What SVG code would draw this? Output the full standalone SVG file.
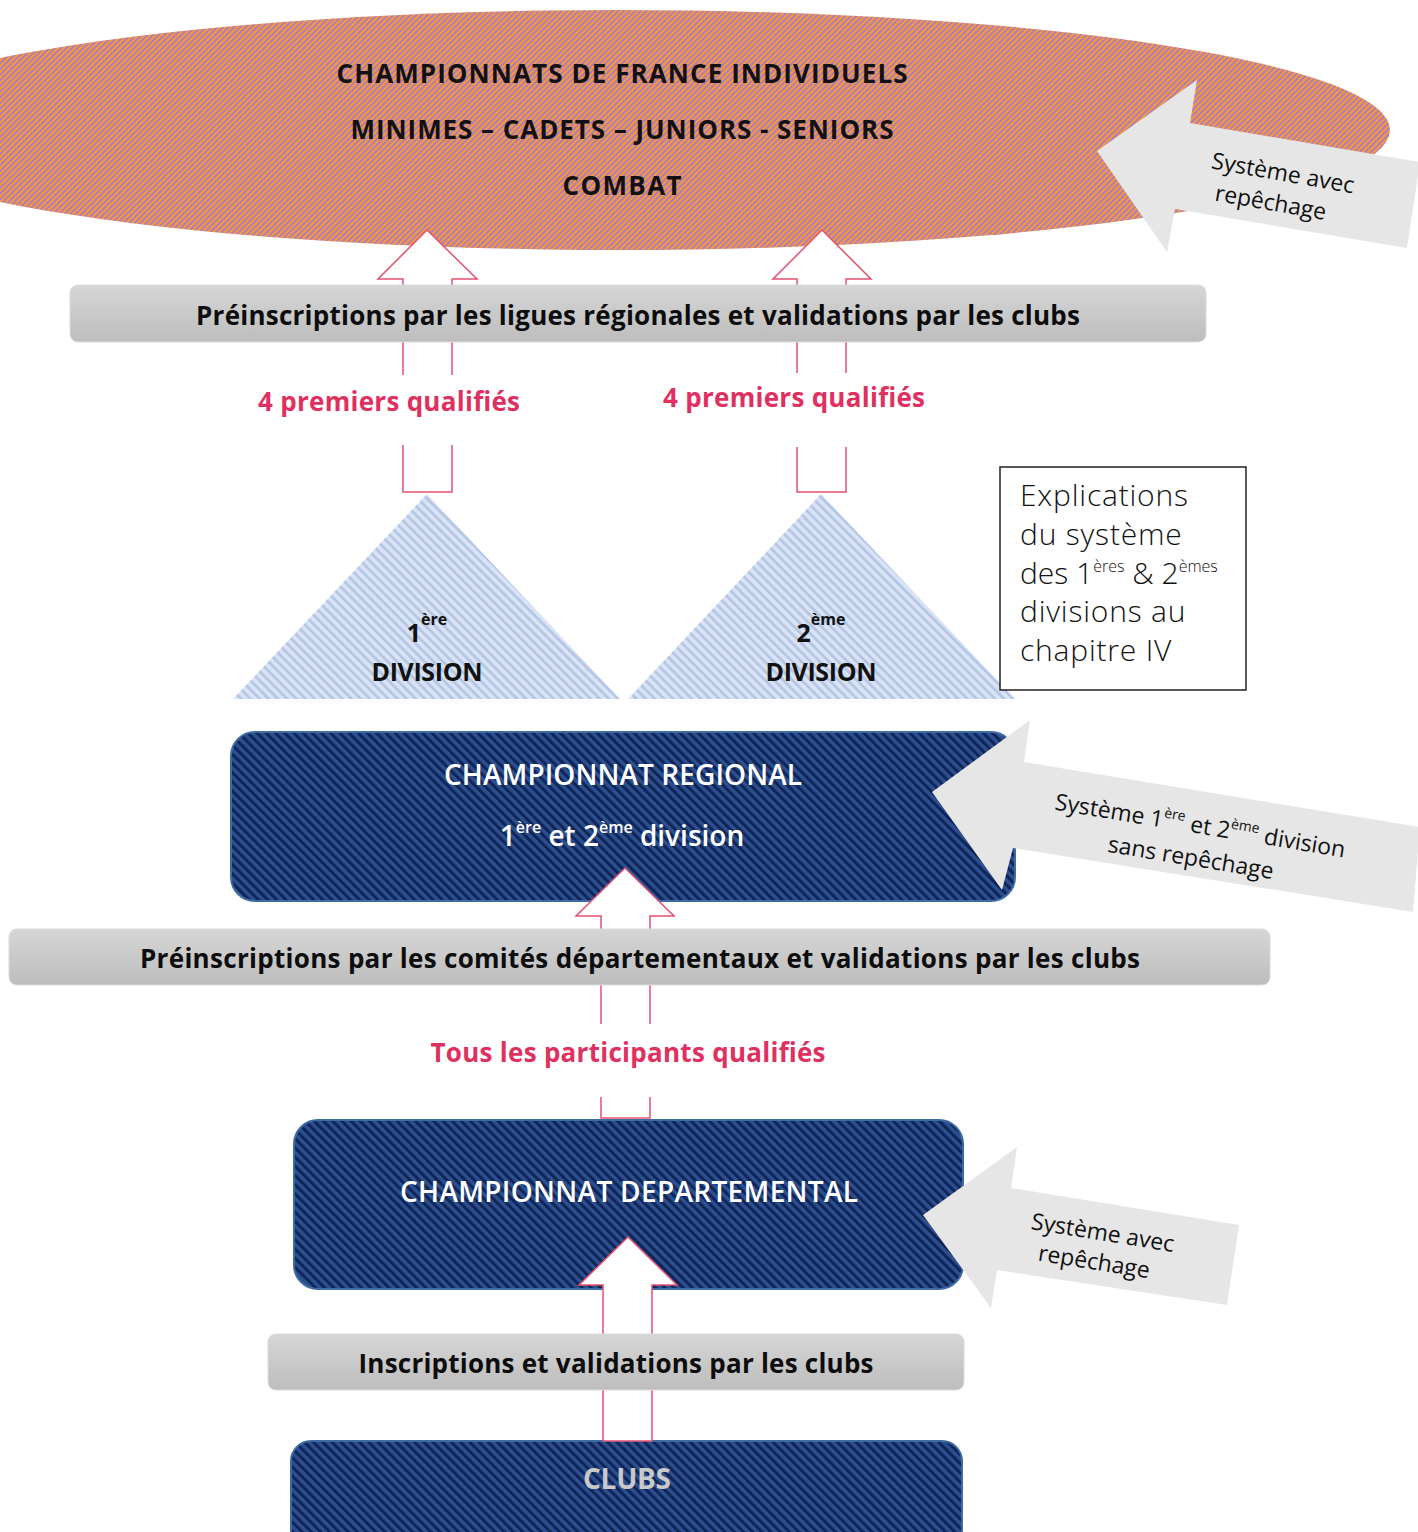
<svg xmlns="http://www.w3.org/2000/svg" width="1418" height="1532" viewBox="0 0 1418 1532">
<defs>
<pattern id="pOrange" width="4" height="4" patternUnits="userSpaceOnUse" patternTransform="rotate(45)">
<rect width="4" height="4" fill="#f89a34"/>
<rect width="1.8" height="4" fill="#a679cc"/>
</pattern>
<pattern id="pBlue" width="6.5" height="6.5" patternUnits="userSpaceOnUse" patternTransform="rotate(-45)">
<rect width="6.5" height="6.5" fill="#2c4f8f"/>
<rect width="3" height="6.5" fill="#0f2457"/>
</pattern>
<pattern id="pLight" width="6.5" height="6.5" patternUnits="userSpaceOnUse" patternTransform="rotate(-45)">
<rect width="6.5" height="6.5" fill="#dae3f3"/>
<rect width="2.8" height="6.5" fill="#b4c7e7"/>
</pattern>
<linearGradient id="gBar" x1="0" y1="0" x2="0" y2="1">
<stop offset="0" stop-color="#d6d6d6"/>
<stop offset="1" stop-color="#bdbdbd"/>
</linearGradient>
<style>
.bar{fill:url(#gBar);stroke:#dadada;stroke-width:1}
.barT{font-family:"Open Sans","Liberation Sans",sans-serif;font-weight:700;font-size:26px;fill:#0d0d0d;text-anchor:middle}
.up{fill:#ffffff;stroke:#e3506f;stroke-width:1.5}
.pink{font-family:"Open Sans","Liberation Sans",sans-serif;font-weight:700;font-size:26px;fill:#e0305f;text-anchor:middle}
.blueBox{fill:url(#pBlue);stroke:#3f6ba3;stroke-width:2}
.white{font-family:"Open Sans","Liberation Sans",sans-serif;font-weight:600;font-size:28px;fill:#ffffff;text-anchor:middle}
.head{font-family:"Open Sans","Liberation Sans",sans-serif;font-weight:700;font-size:26px;fill:#111111;text-anchor:middle}
.call{fill:#e6e6e6}
.callT{font-family:"Open Sans","Liberation Sans",sans-serif;font-weight:400;font-size:23px;fill:#111111;text-anchor:middle}
.div{font-family:"Open Sans","Liberation Sans",sans-serif;font-weight:700;font-size:25px;fill:#111111;text-anchor:middle}
.expl{font-family:"Open Sans","Lato","Liberation Sans",sans-serif;font-weight:300;font-size:30px;letter-spacing:0.8px;fill:#111111}
</style>
</defs>

<g id="france">
<ellipse cx="618" cy="130" rx="772" ry="120" fill="url(#pOrange)"/>
<text class="head" x="622" y="83" textLength="571">CHAMPIONNATS DE FRANCE INDIVIDUELS</text>
<text class="head" x="622" y="139" textLength="543">MINIMES – CADETS – JUNIORS - SENIORS</text>
<text class="head" x="622" y="195" textLength="119">COMBAT</text>
</g>

<g id="connectors">
<polygon class="up" points="427,230 477,279 452,279 452,492 403,492 403,279 378,279"/>
<polygon class="up" points="822,230 871,279 846,279 846,492 797,492 797,279 773,279"/>
</g>

<g id="bar-ligues">
<rect class="bar" x="70" y="285" width="1136" height="57" rx="8"/>
<text class="barT" x="638" y="325" textLength="884">Préinscriptions par les ligues régionales et validations par les clubs</text>
</g>

<g id="label-q1">
<rect x="395" y="375" width="65" height="70" fill="#ffffff"/>
<text class="pink" x="389" y="411" textLength="262">4 premiers qualifiés</text>
</g>
<g id="label-q2">
<rect x="790" y="373" width="64" height="74" fill="#ffffff"/>
<text class="pink" x="794" y="407" textLength="262">4 premiers qualifiés</text>
</g>

<g id="div1">
<polygon points="427,494 620,699 233,699" fill="url(#pLight)"/>
<text class="div" x="427" y="642">1<tspan font-size="16" dy="-17">ère</tspan></text>
<text class="div" x="427" y="681" textLength="111">DIVISION</text>
</g>
<g id="div2">
<polygon points="821,494 1015,699 628,699" fill="url(#pLight)"/>
<text class="div" x="821" y="642">2<tspan font-size="16" dy="-17">ème</tspan></text>
<text class="div" x="821" y="681" textLength="111">DIVISION</text>
</g>

<g id="explications">
<rect x="1000" y="467" width="246" height="223" fill="#ffffff" stroke="#222222" stroke-width="1.5"/>
<text class="expl" x="1020" y="506">Explications</text>
<text class="expl" x="1020" y="545">du système</text>
<text class="expl" x="1020" y="584" style="letter-spacing:0">des 1<tspan font-size="16" dy="-12">ères</tspan><tspan dy="12"> &amp; 2</tspan><tspan font-size="16" dy="-12">èmes</tspan></text>
<text class="expl" x="1020" y="622">divisions au</text>
<text class="expl" x="1020" y="661">chapitre IV</text>
</g>

<g id="regional">
<rect class="blueBox" x="231" y="732" width="784" height="169" rx="24"/>
<text class="white" x="623" y="785" textLength="358">CHAMPIONNAT REGIONAL</text>
<text class="white" x="622" y="846" font-weight="700" font-size="27">1<tspan font-size="16" dy="-13">ère</tspan><tspan dy="13"> et 2</tspan><tspan font-size="16" dy="-13">ème</tspan><tspan dy="13"> division</tspan></text>
</g>

<g id="connector-reg">
<polygon class="up" points="625,868 674,916 650,916 650,1118 601,1118 601,916 576,916"/>
</g>

<g id="bar-comites">
<rect class="bar" x="9" y="929" width="1261" height="56" rx="8"/>
<text class="barT" x="640" y="968" textLength="1000">Préinscriptions par les comités départementaux et validations par les clubs</text>
</g>

<g id="label-tous">
<rect x="594" y="1024" width="62" height="73" fill="#ffffff"/>
<text class="pink" x="628" y="1062" textLength="395">Tous les participants qualifiés</text>
</g>

<g id="departemental">
<rect class="blueBox" x="294" y="1120" width="669" height="169" rx="24"/>
<text class="white" x="629" y="1202" textLength="458">CHAMPIONNAT DEPARTEMENTAL</text>
</g>

<g id="clubs">
<rect class="blueBox" x="291" y="1441" width="671" height="110" rx="20"/>
<text class="white" x="627" y="1489" style="fill:#c9c9c9;font-weight:700" textLength="88">CLUBS</text>
</g>

<g id="connector-dep">
<polygon class="up" points="628,1237 677,1285 652,1285 652,1441 603,1441 603,1285 579,1285"/>
</g>

<g id="bar-clubs">
<rect class="bar" x="268" y="1334" width="696" height="56" rx="8"/>
<text class="barT" x="616" y="1373" textLength="515">Inscriptions et validations par les clubs</text>
</g>

<g id="callout-france">
<polygon class="call" points="1097,151 1197,80 1190,123 1420,162 1407,248 1175,209 1167,252"/>
<g transform="rotate(10 1276 190)">
<text class="callT" x="1280" y="180">Système avec</text>
<text class="callT" x="1273" y="211">repêchage</text>
</g>
</g>

<g id="callout-regional">
<polygon class="call" points="932,792 1030,720 1024,762 1420,827 1413,912 1013,848 1002,890"/>
<g transform="rotate(9.4 1195 845)">
<text class="callT" x="1197" y="833">Système 1<tspan font-size="14" dy="-10">ère</tspan><tspan dy="10"> et 2</tspan><tspan font-size="14" dy="-10">ème</tspan><tspan dy="10"> division</tspan></text>
<text class="callT" x="1193" y="866">sans repêchage</text>
</g>
</g>

<g id="callout-dep">
<polygon class="call" points="923,1215 1017,1147 1011,1188 1239,1225 1227,1305 997,1270 991,1308"/>
<g transform="rotate(9.2 1098 1250)">
<text class="callT" x="1100" y="1240">Système avec</text>
<text class="callT" x="1096" y="1270">repêchage</text>
</g>
</g>
</svg>
